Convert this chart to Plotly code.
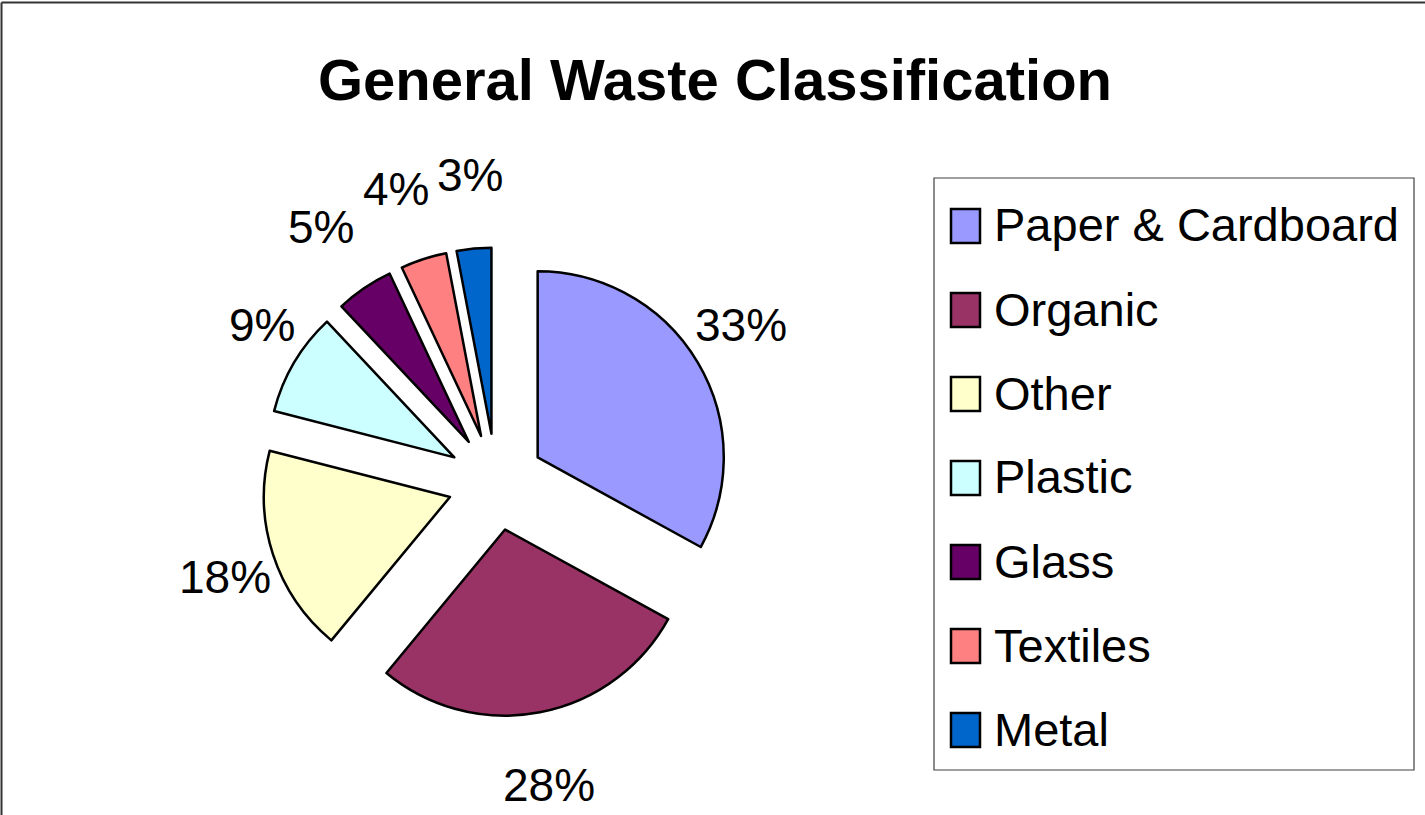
import math
import plotly.graph_objects as go

W, H = 1425, 815

categories = ["Paper & Cardboard", "Organic", "Other", "Plastic", "Glass", "Textiles", "Metal"]
values = [33, 28, 18, 9, 5, 4, 3]
colors = ["#9999FF", "#993366", "#FFFFCC", "#CCFFFF", "#660066", "#FF8080", "#0066CC"]

FONT = "Liberation Sans, Arial, sans-serif"
PULL = 0.26
LABEL_FS = 46


def px_x(x):
    return x / W


def px_y(y):
    return 1 - y / H


# pie box (pixels)
DOM_X = (261.5, 730.5)
DOM_Y = (247.5, 716.5)
cx = (DOM_X[0] + DOM_X[1]) / 2
cy = (DOM_Y[0] + DOM_Y[1]) / 2
r = min(DOM_X[1] - DOM_X[0], DOM_Y[1] - DOM_Y[0]) / (2 * (1 + PULL))

fig = go.Figure()
fig.add_trace(go.Pie(
    labels=categories,
    values=values,
    sort=False,
    direction="clockwise",
    rotation=0,
    pull=[PULL] * len(values),
    marker=dict(colors=colors, line=dict(color="black", width=2.5)),
    textposition="none",
    domain=dict(x=[px_x(DOM_X[0]), px_x(DOM_X[1])], y=[px_y(DOM_Y[1]), px_y(DOM_Y[0])]),
    showlegend=False,
    hoverinfo="label+percent",
))

shapes = []
annotations = []

# percentage labels placed outside each slice, from the slice's mid angle
RX = r * (1 + PULL) + 4
RY = 282
GAP = 8
total = sum(values)
cum = 0
boxes = []
for v in values:
    mid = math.radians((cum + v / 2) / total * 360)
    cum += v
    s, c = math.sin(mid), -math.cos(mid)
    txt = f"{round(v / total * 100)}%"
    ndig = len(txt) - 1
    w = (0.556 * ndig + 0.889) * LABEL_FS
    h = LABEL_FS * 1.15
    x = cx + s * (RX + w / 2)
    y = cy + c * (RY + h / 2)
    boxes.append([x, y, w, h, s, txt])

placed = []
for b in reversed(boxes):
    x, y, w, h, s, txt = b
    for (px, py, pw, ph, _, _) in placed:
        if abs(y - py) < (h + ph) / 2 and abs(x - px) < (w + pw) / 2 + GAP:
            if s < 0:
                x = px - (w + pw) / 2 - GAP
            else:
                x = px + (w + pw) / 2 + GAP
    b[0] = x
    placed.append(b)

for x, y, w, h, s, txt in boxes:
    annotations.append(dict(text=txt, xref="paper", yref="paper",
                            x=px_x(x), y=px_y(y), xanchor="center", yanchor="middle",
                            showarrow=False, font=dict(family=FONT, size=LABEL_FS, color="black")))

# legend box
shapes.append(dict(type="rect", xref="paper", yref="paper",
                   x0=px_x(934), x1=px_x(1414), y0=px_y(770), y1=px_y(178),
                   line=dict(color="#404040", width=1.2), fillcolor="rgba(0,0,0,0)"))
row0, step = 226, 84
for i, (lab, col) in enumerate(zip(categories, colors)):
    yc = row0 + i * step
    shapes.append(dict(type="rect", xref="paper", yref="paper",
                       x0=px_x(951), x1=px_x(980), y0=px_y(yc + 17), y1=px_y(yc - 17),
                       line=dict(color="black", width=2.5), fillcolor=col))
    annotations.append(dict(text=lab, xref="paper", yref="paper",
                            x=px_x(992), y=px_y(yc - 1), xanchor="left", yanchor="middle",
                            showarrow=False, font=dict(family=FONT, size=47, color="black")))

# outer frame (top and left edges visible)
shapes.append(dict(type="line", xref="paper", yref="paper",
                   x0=px_x(1.5), x1=1.0, y0=px_y(2.5), y1=px_y(2.5),
                   line=dict(color="#333333", width=2)))
shapes.append(dict(type="line", xref="paper", yref="paper",
                   x0=px_x(1.5), x1=px_x(1.5), y0=px_y(2.5), y1=0.0,
                   line=dict(color="#333333", width=2)))

fig.update_layout(
    width=W, height=H, autosize=False, showlegend=False,
    margin=dict(l=0, r=0, t=0, b=0, pad=0, autoexpand=False),
    paper_bgcolor="white",
    plot_bgcolor="white",
    title=dict(text="<b>General Waste Classification</b>",
               x=px_x(715), xanchor="center", y=px_y(80), yanchor="middle",
               font=dict(family=FONT, size=58, color="black")),
    shapes=shapes,
    annotations=annotations,
)

fig.write_html("out.html", config={"displayModeBar": False},
               post_script="document.body.style.margin='0';")
